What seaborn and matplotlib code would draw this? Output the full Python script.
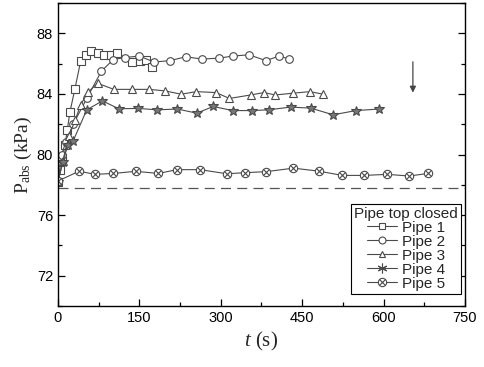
import numpy as np
import pandas as pd
import matplotlib
matplotlib.use("Agg")
import matplotlib.pyplot as plt
import seaborn as sns
from matplotlib.lines import Line2D
from matplotlib.legend_handler import HandlerTuple

# time (s) and absolute pressure (kPa)
t1 = [0, 4, 8, 13, 17, 22, 31, 42, 52, 61, 74, 85, 97, 109, 137, 151, 162, 173]
p1 = [78.2, 79.0, 79.8, 80.6, 81.6, 82.8, 84.3, 86.2, 86.6, 86.85, 86.73, 86.6, 86.58, 86.7, 86.1, 86.2, 86.27, 85.8]

t2 = [0, 7, 14, 28, 53, 80, 102, 123, 150, 177, 206, 236, 265, 297, 322, 352, 383, 408, 426]
p2 = [78.2, 80.0, 80.8, 82.0, 83.7, 85.5, 86.27, 86.4, 86.5, 86.1, 86.2, 86.45, 86.3, 86.36, 86.5, 86.58, 86.2, 86.5, 86.3]

t3 = [0, 9, 20, 32, 42, 55, 73, 103, 136, 168, 197, 227, 255, 291, 316, 355, 380, 400, 434, 464, 489]
p3 = [78.2, 79.6, 81.2, 82.3, 83.3, 84.1, 84.7, 84.3, 84.3, 84.3, 84.2, 83.98, 84.15, 84.09, 83.7, 83.93, 84.09, 83.93, 84.05, 84.15, 83.98]

t4 = [0, 9, 18, 28, 53, 82, 112, 148, 183, 220, 256, 286, 322, 358, 388, 429, 466, 507, 549, 591]
p4 = [78.2, 79.5, 80.6, 80.9, 82.95, 83.54, 83.02, 83.04, 82.95, 83.0, 82.73, 83.17, 82.9, 82.9, 82.95, 83.13, 83.06, 82.62, 82.9, 83.0]

t5 = [0, 39, 68, 102, 143, 185, 219, 262, 311, 345, 384, 434, 481, 524, 564, 607, 647, 682]
p5 = [78.25, 78.9, 78.69, 78.75, 78.89, 78.75, 79.0, 79.0, 78.73, 78.8, 78.87, 79.1, 78.9, 78.62, 78.62, 78.69, 78.58, 78.75]

p_atm = 77.8
labels = ["Pipe 1", "Pipe 2", "Pipe 3", "Pipe 4", "Pipe 5"]

sns.set_style("ticks")
plt.rcParams["font.family"] = ["Liberation Sans", "DejaVu Sans"]
plt.rcParams["mathtext.fontset"] = "custom"
plt.rcParams["mathtext.rm"] = "Liberation Serif"
plt.rcParams["mathtext.it"] = "Liberation Serif:italic"

fig = plt.figure(figsize=(4.84, 3.67), dpi=100)
ax = fig.add_axes([0.1198, 0.1662, 0.8409, 0.8256])

lc = "#4a4a4a"
ms = 5.5
common = dict(color=lc, linewidth=0.8, markersize=ms, markeredgewidth=0.8,
              markeredgecolor=lc, ax=ax, sort=False, estimator=None)

sns.lineplot(x=t1, y=p1, marker="s", markerfacecolor="white", **common)
sns.lineplot(x=t2, y=p2, marker="o", markerfacecolor="white", **common)
sns.lineplot(x=t3, y=p3, marker="^", markerfacecolor="white", **common)
sns.lineplot(x=t4, y=p4, marker="*", markerfacecolor="#777777", **dict(common, markersize=7.5))
sns.lineplot(x=t5, y=p5, marker="o", markerfacecolor="white", **dict(common, markersize=6))
ax.plot(t5, p5, linestyle="none", marker="x", color=lc, markersize=4.5, markeredgewidth=0.8)

ax.axhline(p_atm, color="#555555", linewidth=0.9, dashes=(8, 5))
ax.annotate("", xy=(654, 83.9), xytext=(654, 86.3),
            arrowprops=dict(arrowstyle="-|>", color="#444444", lw=0.9, mutation_scale=9))

ax.set_xlim(0, 750)
ax.set_ylim(70, 90)
ax.set_xticks([0, 150, 300, 450, 600, 750])
ax.set_xticks(np.arange(75, 750, 150), minor=True)
ax.set_yticks([72, 76, 80, 84, 88])
ax.set_yticks(np.arange(70, 91, 2), minor=True)
ax.tick_params(which="both", direction="in", right=True, top=False, colors="black",
               labelsize=10.5, width=0.9)
ax.tick_params(which="major", length=5)
ax.tick_params(which="minor", length=3)
for s in ax.spines.values():
    s.set_linewidth(1.0)
    s.set_color("black")

ax.set_xlabel(r"$t$ (s)", fontsize=15, fontfamily="Liberation Serif", labelpad=4)
ax.set_ylabel(r"P$_{\rm abs}$ (kPa)", fontsize=14, fontfamily="Liberation Serif", labelpad=2)

mk = dict(color=lc, linewidth=0.8, markersize=5, markeredgewidth=0.8, markeredgecolor=lc)
h1 = Line2D([], [], marker="s", markerfacecolor="white", **mk)
h2 = Line2D([], [], marker="o", markerfacecolor="white", **mk)
h3 = Line2D([], [], marker="^", markerfacecolor="white", **mk)
h4 = Line2D([], [], marker=(6, 2, 0), markerfacecolor=lc, **dict(mk, markersize=7))
h5a = Line2D([], [], marker="o", markerfacecolor="white", **dict(mk, markersize=6))
h5b = Line2D([], [], marker="x", linestyle="none", color=lc, markersize=4.5, markeredgewidth=0.8)
leg = ax.legend([h1, h2, h3, h4, (h5a, h5b)], labels, title="Pipe top closed",
                handler_map={tuple: HandlerTuple(ndivide=1)},
                loc="lower right", bbox_to_anchor=(0.99, 0.04), fontsize=11,
                title_fontsize=11, frameon=True, fancybox=False, edgecolor="black",
                framealpha=1, handlelength=2.0, handletextpad=0.3, labelspacing=0.0,
                borderpad=0.2, borderaxespad=0)
leg.get_frame().set_linewidth(0.8)

fig.savefig("out.png", dpi=100)
